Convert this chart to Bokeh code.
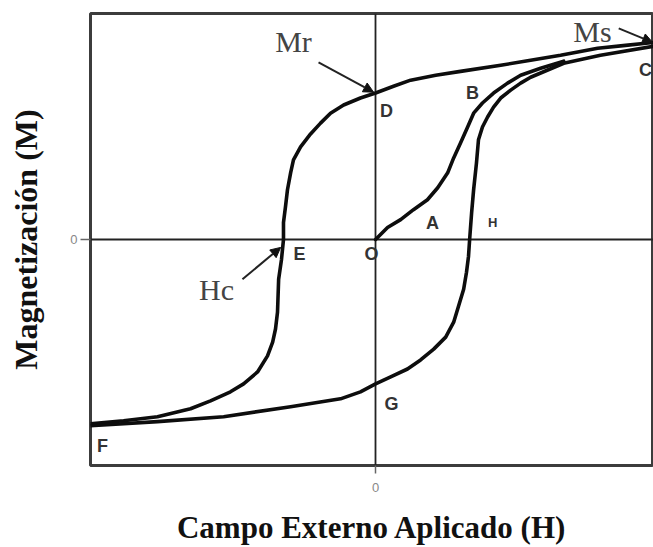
from bokeh.plotting import figure
from bokeh.models import Range1d, FixedTicker, Label, Arrow, NormalHead
from bokeh.embed import file_html
from bokeh.resources import INLINE

# Descending branch (C -> D -> E -> F)
upper_H = [0.975, 0.877, 0.779, 0.649, 0.544, 0.439, 0.298, 0.211, 0.123, 0.063,
           0.0, -0.053, -0.112, -0.158, -0.193, -0.228, -0.263, -0.288, -0.298,
           -0.309, -0.316, -0.323, -0.323, -0.330, -0.340, -0.344, -0.351, -0.361,
           -0.379, -0.414, -0.463, -0.509, -0.579, -0.649, -0.765, -0.884, -1.0]
upper_M = [0.872, 0.859, 0.846, 0.815, 0.793, 0.771, 0.744, 0.727, 0.705, 0.678,
           0.648, 0.626, 0.595, 0.559, 0.515, 0.467, 0.410, 0.352, 0.295,
           0.220, 0.145, 0.075, 0.0, -0.088, -0.176, -0.322, -0.396, -0.454,
           -0.515, -0.586, -0.639, -0.674, -0.714, -0.749, -0.784, -0.802, -0.815]

# Ascending branch (F -> G -> H -> C)
lower_H = [-1.0, -0.765, -0.533, -0.298, -0.123, -0.053, 0.0, 0.053, 0.112, 0.158,
           0.204, 0.246, 0.274, 0.291, 0.309, 0.319, 0.326, 0.330, 0.337, 0.344,
           0.354, 0.361, 0.375, 0.393, 0.414, 0.439, 0.474, 0.509, 0.544, 0.660,
           0.789, 0.975]
lower_M = [-0.824, -0.806, -0.784, -0.740, -0.705, -0.674, -0.639, -0.608, -0.573,
           -0.533, -0.485, -0.432, -0.366, -0.295, -0.220, -0.145, -0.075, 0.0,
           0.119, 0.220, 0.339, 0.441, 0.498, 0.542, 0.586, 0.626, 0.661, 0.692,
           0.718, 0.780, 0.815, 0.855]

# Initial magnetization curve (O -> A -> B)
virgin_H = [0.0, 0.042, 0.088, 0.133, 0.182, 0.218, 0.253, 0.274, 0.298, 0.323,
            0.344, 0.375, 0.414, 0.463, 0.509, 0.579, 0.660]
virgin_M = [0.0, 0.053, 0.088, 0.132, 0.176, 0.229, 0.295, 0.361, 0.427, 0.498,
            0.559, 0.604, 0.648, 0.692, 0.727, 0.758, 0.789]

point_names = ["D", "B", "A", "O", "E", "G", "F"]
point_x = [0.0386, 0.340, 0.200, -0.014, -0.267, 0.056, -0.958]
point_y = [0.568, 0.648, 0.075, -0.066, -0.062, -0.727, -0.912]

x_ticks = [0]
y_ticks = [0]

p = figure(width=653, height=547, output_backend="svg", toolbar_location=None,
           x_range=Range1d(-1.0, 0.975), y_range=Range1d(-1.0, 1.0),
           min_border_left=90, min_border_right=0, min_border_top=13,
           min_border_bottom=80)

p.outline_line_color = "#3c3c3c"
p.outline_line_width = 3
p.background_fill_color = "white"
p.border_fill_color = "white"

for ax in (p.xaxis[0], p.yaxis[0]):
    ax.axis_line_color = None
    ax.major_tick_in = 0
    ax.minor_tick_line_color = None
    ax.major_tick_line_color = "#666666"
    ax.major_tick_line_width = 1.5
    ax.major_label_text_color = "#888888"
    ax.major_label_text_font = "Liberation Sans"
    ax.major_label_text_font_size = "13px"
    ax.axis_label_text_font = "Liberation Serif"
    ax.axis_label_text_font_style = "bold"
    ax.axis_label_text_font_size = "31px"
    ax.axis_label_text_color = "#111111"

p.xaxis.ticker = FixedTicker(ticks=x_ticks)
p.yaxis.ticker = FixedTicker(ticks=y_ticks)
p.xaxis.axis_label = "Campo Externo Aplicado (H)"
p.yaxis.axis_label = "Magnetización (M)"
p.yaxis.axis_label_text_font_size = "32px"
p.xaxis.major_tick_out = 8
p.yaxis.major_tick_out = 10
p.xaxis.major_label_standoff = 9
p.yaxis.major_label_standoff = 3
p.xaxis.axis_label_standoff = 15
p.yaxis.axis_label_standoff = 23

p.xgrid.ticker = FixedTicker(ticks=x_ticks)
p.ygrid.ticker = FixedTicker(ticks=y_ticks)
p.xgrid.grid_line_color = "#222222"
p.ygrid.grid_line_color = "#222222"
p.xgrid.grid_line_width = 1.8
p.ygrid.grid_line_width = 1.8

for hx, my in ((upper_H, upper_M), (lower_H, lower_M), (virgin_H, virgin_M)):
    p.line(hx, my, line_color="#0d0d0d", line_width=3.6, line_join="round",
           line_cap="round")

for name, x, y in zip(point_names, point_x, point_y):
    p.add_layout(Label(x=x, y=y, text=name, text_font="Liberation Sans",
                       text_font_style="bold", text_font_size="18px",
                       text_color="#333333", text_align="center",
                       text_baseline="middle"))

p.add_layout(Label(x=0.411, y=0.075, text="H", text_font="Liberation Sans",
                   text_font_style="bold", text_font_size="13px",
                   text_color="#333333", text_align="center", text_baseline="middle"))
p.add_layout(Label(x=0.970, y=0.749, text="C", text_font="Liberation Sans",
                   text_font_style="bold", text_font_size="18px",
                   text_color="#333333", text_align="right", text_baseline="middle"))

for txt, x, y in (("Mr", -0.288, 0.877), ("Ms", 0.761, 0.921), ("Hc", -0.558, -0.220)):
    p.add_layout(Label(x=x, y=y, text=txt, text_font="Liberation Serif",
                       text_font_size="30px", text_color="#444444",
                       text_align="center", text_baseline="middle"))

for (x0, y0, x1, y1) in ((-0.200, 0.784, -0.007, 0.652),
                         (0.853, 0.934, 0.972, 0.872),
                         (-0.467, -0.176, -0.333, -0.035)):
    p.add_layout(Arrow(x_start=x0, y_start=y0, x_end=x1, y_end=y1,
                       line_color="#222222", line_width=2,
                       end=NormalHead(size=10, fill_color="#111111",
                                      line_color="#111111")))

open("out.html", "w").write(file_html(p, INLINE))
